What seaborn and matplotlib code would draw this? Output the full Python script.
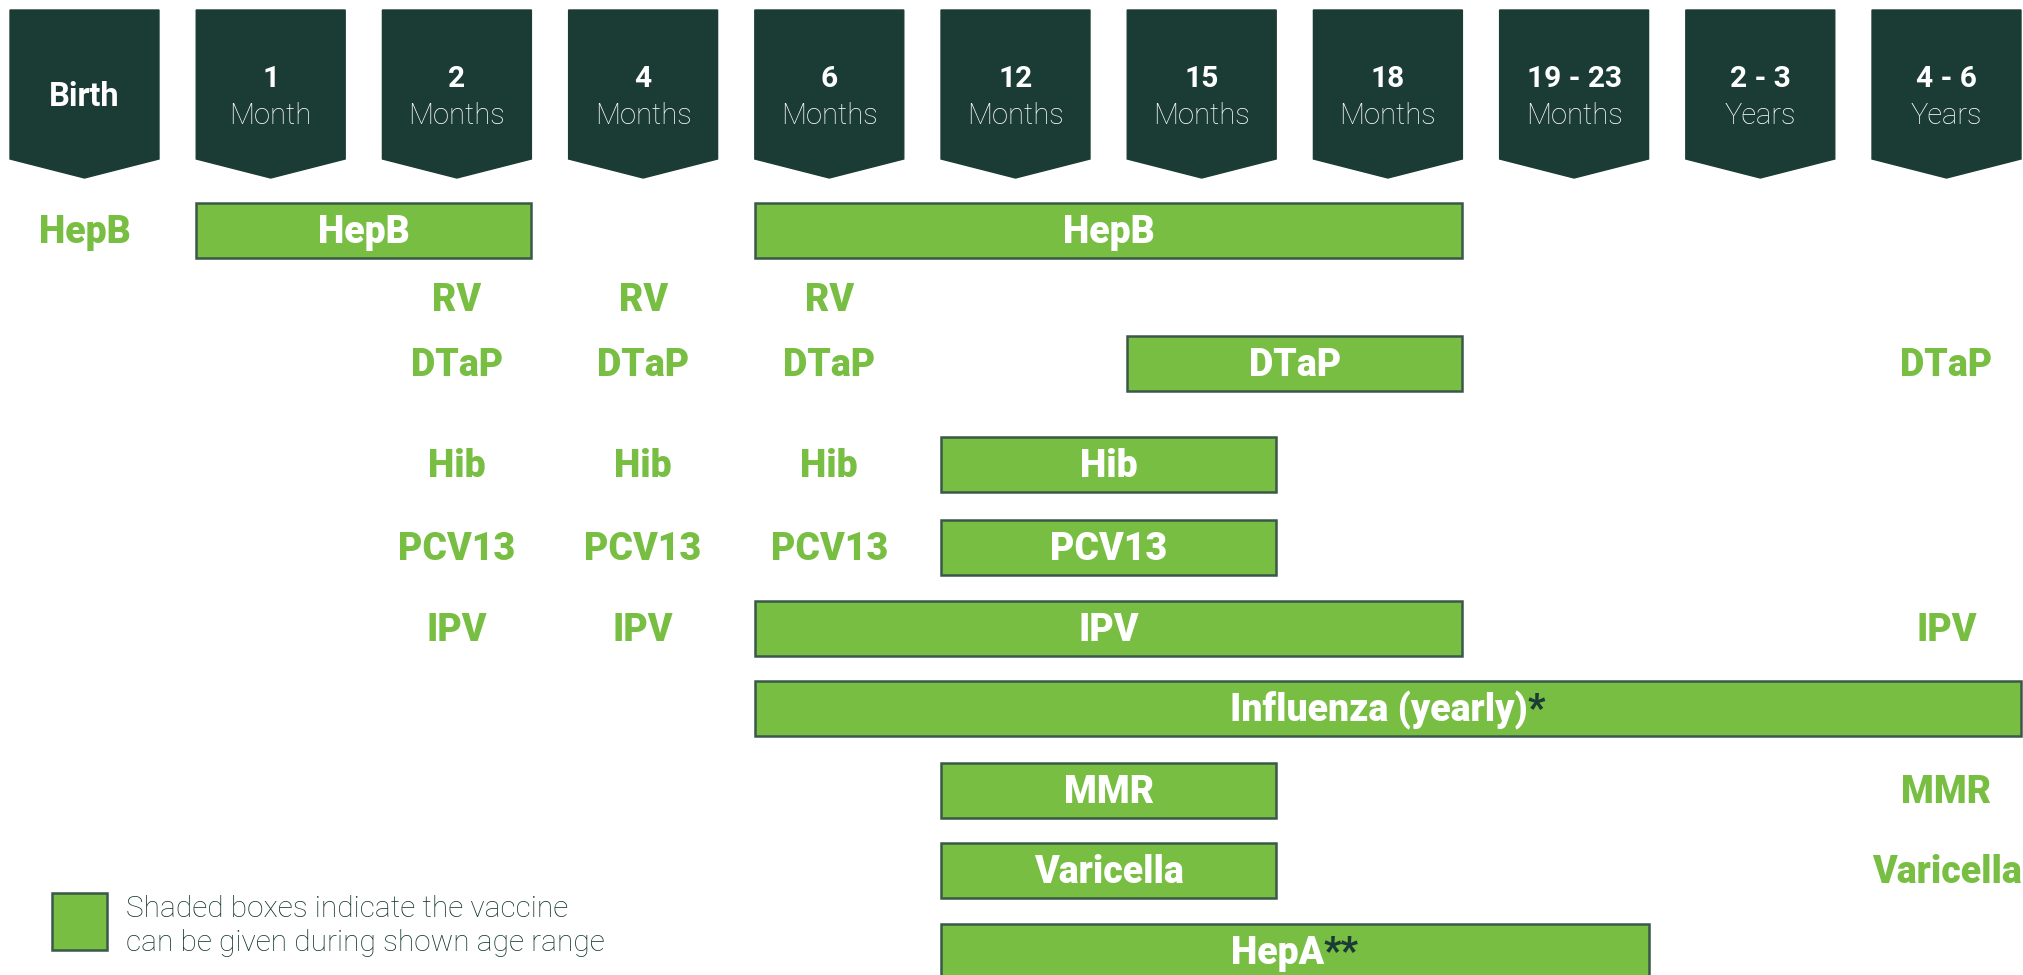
import matplotlib
matplotlib.use("Agg")
import matplotlib.pyplot as plt
import seaborn as sns
import pandas as pd
from matplotlib.patches import Polygon, Rectangle

# ---------------- data ----------------
AGE_TOP = ["Birth", "1", "2", "4", "6", "12", "15", "18", "19 - 23", "2 - 3", "4 - 6"]
AGE_BOTTOM = ["", "Month", "Months", "Months", "Months", "Months", "Months",
              "Months", "Months", "Years", "Years"]

VACCINES = ["HepB", "RV", "DTaP", "Hib", "PCV13", "IPV", "Influenza", "MMR",
            "Varicella", "HepA"]

# shaded age ranges (column index of first and last age group)
RANGE_VACCINE = ["HepB", "HepB", "DTaP", "Hib", "PCV13", "IPV", "Influenza",
                 "MMR", "Varicella", "HepA"]
RANGE_START = [1, 4, 6, 5, 5, 4, 4, 5, 5, 5]
RANGE_END = [2, 7, 7, 6, 6, 7, 10, 6, 6, 8]
RANGE_LABEL = ["HepB", "HepB", "DTaP", "Hib", "PCV13", "IPV",
               "Influenza (yearly)", "MMR", "Varicella", "HepA"]
RANGE_NOTE = ["", "", "", "", "", "", "*", "", "", "**"]

# single recommended doses (column index of age group)
DOSE_VACCINE = ["HepB", "RV", "RV", "RV", "DTaP", "DTaP", "DTaP", "DTaP",
                "Hib", "Hib", "Hib", "PCV13", "PCV13", "PCV13",
                "IPV", "IPV", "IPV", "MMR", "Varicella"]
DOSE_AGE = [0, 2, 3, 4, 2, 3, 4, 10, 2, 3, 4, 2, 3, 4, 2, 3, 10, 10, 10]

LEGEND_TEXT = "Shaded boxes indicate the vaccine\ncan be given during shown age range"

# ---------------- layout / style ----------------
W, H = 2023, 975
COL0, STEP, HALF = 84.5, 186.2, 0.4
ROW_Y = [230, 298, 363, 464, 547, 628, 708, 790, 870, 951]
BAR_H = 55
DARK = "#1b3c34"
GREEN = "#78be43"
EDGE = "#3a5849"
TXT = "#12362c"
LABEL_SIZE = 27
LABEL_FONT = ["Roboto", "DejaVu Sans"]
LIGHT_FONT = ["Roboto", "DejaVu Sans"]

sns.set_theme(style="white")
plt.rcParams["font.family"] = ["Roboto", "DejaVu Sans"]

row_y = dict(zip(VACCINES, ROW_Y))
ranges = pd.DataFrame({"vaccine": RANGE_VACCINE, "start": RANGE_START,
                       "end": RANGE_END, "label": RANGE_LABEL, "note": RANGE_NOTE})
doses = pd.DataFrame({"vaccine": DOSE_VACCINE, "age": DOSE_AGE})

fig = plt.figure(figsize=(W / 100, H / 100), dpi=100)
ax = fig.add_axes([0, 0, 1, 1])
ax.set_xlim(-COL0 / STEP, (W - COL0) / STEP)
ax.set_ylim(H, 0)
ax.axis("off")

# header pentagons
TOP, SHOULDER, TIP = 10, 159, 178
for i, (top, bottom) in enumerate(zip(AGE_TOP, AGE_BOTTOM)):
    pts = [(i - HALF, TOP), (i + HALF, TOP), (i + HALF, SHOULDER), (i, TIP),
           (i - HALF, SHOULDER)]
    ax.add_patch(Polygon(pts, closed=True, facecolor=DARK, edgecolor=DARK, lw=1))
    if bottom:
        ax.text(i, 87, top, ha="center", va="baseline", color="white",
                fontsize=21.5, fontweight="bold", family=LABEL_FONT)
        ax.text(i, 124, bottom, ha="center", va="baseline", color="white",
                fontsize=21, fontweight="light", family=LIGHT_FONT)
    else:
        ax.text(i, 106, top, ha="center", va="baseline", color="white",
                fontsize=23.5, fontweight="bold", family=LABEL_FONT)

# shaded range bars
ys = [row_y[v] for v in ranges["vaccine"]]
lefts = ranges["start"] - HALF
widths = ranges["end"] - ranges["start"] + 2 * HALF
ax.barh(ys, widths, left=lefts, height=BAR_H, color=GREEN, edgecolor=EDGE,
        linewidth=1.8)

fig.canvas.draw()
renderer = fig.canvas.get_renderer()
inv = ax.transData.inverted()
cap_off = 13
for _, r in ranges.iterrows():
    cx = (r["start"] + r["end"]) / 2
    y = row_y[r["vaccine"]] + cap_off
    t = ax.text(cx, y, r["label"], ha="left", va="baseline", color="white",
                fontsize=LABEL_SIZE, fontweight="black", family=LABEL_FONT)
    if r["note"]:
        m = ax.text(cx, y, r["note"], ha="left", va="baseline", color=DARK,
                    fontsize=LABEL_SIZE, fontweight="black", family=LABEL_FONT)
        wm = m.get_window_extent(renderer).width
    else:
        m = None
        wm = 0
    wt = t.get_window_extent(renderer).width
    cdisp = ax.transData.transform((cx, y))
    left_disp = cdisp[0] - (wt + wm) / 2
    t.set_x(inv.transform((left_disp, cdisp[1]))[0])
    if m is not None:
        m.set_x(inv.transform((left_disp + wt, cdisp[1]))[0])

# single dose labels
for _, d in doses.iterrows():
    ax.text(d["age"], row_y[d["vaccine"]] + cap_off, d["vaccine"], ha="center",
            va="baseline", color=GREEN, fontsize=LABEL_SIZE, fontweight="black",
            family=LABEL_FONT)

# legend
lx0, lx1 = (52 - COL0) / STEP, (107 - COL0) / STEP
ax.add_patch(Rectangle((lx0, 893), lx1 - lx0, 57, facecolor=GREEN,
                       edgecolor=EDGE, lw=1.8))
lines = LEGEND_TEXT.split("\n")
ax.text((126 - COL0) / STEP, 917, lines[0], ha="left", va="baseline", color=TXT,
        fontsize=21.5, fontweight="light", family=LIGHT_FONT)
ax.text((126 - COL0) / STEP, 951, lines[1], ha="left", va="baseline", color=TXT,
        fontsize=21.5, fontweight="light", family=LIGHT_FONT)

fig.savefig("out.png", dpi=100, facecolor="white")
